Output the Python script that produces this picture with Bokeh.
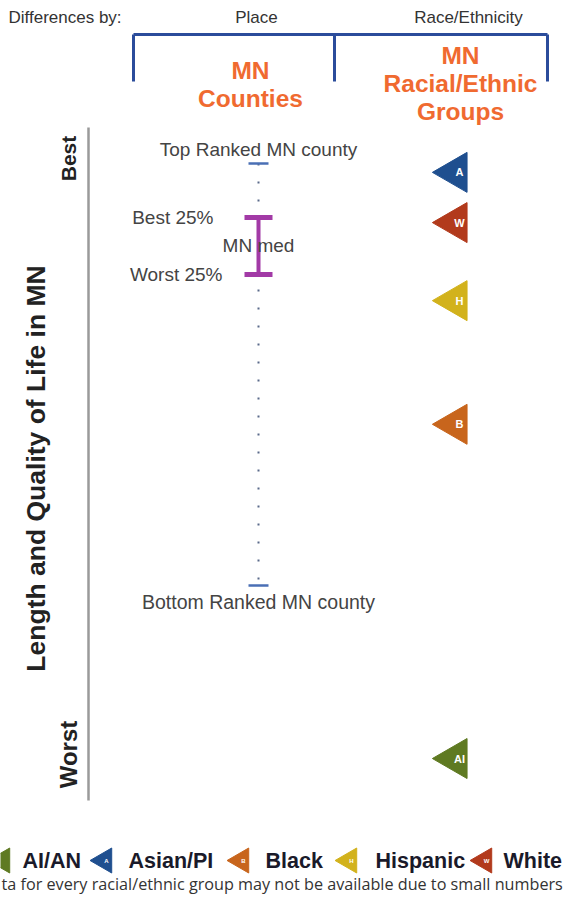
import numpy as np
from bokeh.plotting import figure
from bokeh.models import Range1d, Label, ColumnDataSource
from bokeh.core.properties import value
from bokeh.embed import file_html
from bokeh.resources import INLINE

# ---- data (relative ranking position: 0 = top ranked MN county, 100 = bottom ranked MN county)
groups = ["AI/AN", "Asian/PI", "Black", "Hispanic", "White"]
abbrev = ["AI", "A", "B", "H", "W"]
group_pos = [141.0, 2.1, 61.8, 32.5, 14.0]
group_colors = ["#5f7a22", "#1f4f8f", "#c8651c", "#d2b21c", "#b23a1c"]

county_top = 0.0
county_bottom = 100.0
county_best25 = 12.8
county_worst25 = 26.3
county_median = 19.5

# ---- layout helpers (reference pixel -> data units)
PX = 4.22
Y0 = 163.0
def Y(pix):
    return (pix - Y0) / PX

W, H = 568, 895
p = figure(width=W, height=H, output_backend="svg", toolbar_location=None,
           x_axis_type=None, y_axis_type=None, min_border=0,
           x_range=Range1d(0, W), y_range=Range1d(Y(H), Y(0)))
p.outline_line_color = None
p.grid.visible = False
p.background_fill_color = "white"
p.border_fill_color = "white"

SANS = "Liberation Sans"
DARK = "#333333"

def lab(x, y, text, size, color=DARK, bold=False, align="center", angle=0.0, font=SANS):
    p.add_layout(Label(x=x, y=y, text=text, text_font=font, text_font_size=f"{size}px",
                       text_color=color, text_font_style="bold" if bold else "normal",
                       text_align=align, text_baseline="middle", angle=angle))

# header
lab(8, Y(17), "Differences by:", 17, align="left")
lab(256, Y(17), "Place", 17)
lab(468, Y(17), "Race/Ethnicity", 17)
BR = "#2b4c9b"
p.line([133, 547], [Y(34), Y(34)], line_color=BR, line_width=3)
for bx in [133, 334, 547]:
    p.line([bx, bx], [Y(34), Y(81)], line_color=BR, line_width=3)
OR = "#f06a30"
lab(250, Y(70), "MN", 24.5, OR, True)
lab(250, Y(98), "Counties", 24.5, OR, True)
lab(460, Y(55), "MN", 24.5, OR, True)
lab(460, Y(83), "Racial/Ethnic", 24.5, OR, True)
lab(460, Y(111), "Groups", 24.5, OR, True)

# left scale
p.line([88, 88], [Y(127), Y(800)], line_color="#9a9a9a", line_width=2.5)
lab(68, Y(158), "Best", 21, "#222222", True, angle=np.pi / 2)
lab(68, Y(754), "Worst", 24, "#222222", True, angle=np.pi / 2)
lab(35, Y(468), "Length and Quality of Life in MN", 26.5, "#222222", True, angle=np.pi / 2)

# county distribution
CX = 258
p.line([CX, CX], [county_top, county_bottom], line_color="#5a6a8a", line_width=2, line_dash="2 16")
p.line([CX - 10, CX + 10], [county_top, county_top], line_color="#4a6fb5", line_width=2.5)
p.line([CX - 10, CX + 10], [county_bottom, county_bottom], line_color="#4a6fb5", line_width=2.5)
PU = "#a23aa6"
p.line([CX, CX], [county_best25, county_worst25], line_color=PU, line_width=4)
p.line([CX - 14, CX + 14], [county_best25, county_best25], line_color=PU, line_width=5)
p.line([CX - 14, CX + 14], [county_worst25, county_worst25], line_color=PU, line_width=5)

lab(CX, county_top - 14 / PX, "Top Ranked MN county", 19, "#444444")
lab(CX, county_bottom + 16 / PX, "Bottom Ranked MN county", 19.5, "#444444")
lab(213, county_best25, "Best 25%", 19, "#444444", align="right")
lab(222, county_worst25, "Worst 25%", 19, "#444444", align="right")
lab(CX, county_median, "MN med", 19, "#444444")

# racial/ethnic groups
src = ColumnDataSource(dict(x=[455] * len(groups), y=group_pos, c=group_colors, t=abbrev))
p.scatter("x", "y", source=src, marker="triangle", size=40, angle=np.pi / 2,
          fill_color="c", line_color="c")
p.text(x=[459] * len(groups), y=group_pos, text=abbrev, text_color="white",
       text_font=value(SANS), text_font_style="bold", text_font_size="11px",
       text_align="center", text_baseline="middle")

# legend
leg_tri_x = [2, 104, 241, 349, 484]
leg_txt_x = [22, 128, 265, 375, 503]
ly = Y(860)
p.scatter(leg_tri_x, [ly] * 5, marker="triangle", size=25, angle=np.pi / 2,
          fill_color=group_colors, line_color=group_colors)
p.text(x=[t + 2 for t in leg_tri_x[1:]], y=[ly] * 4, text=abbrev[1:], text_color="white",
       text_font=value(SANS), text_font_style="bold", text_font_size="6px",
       text_align="center", text_baseline="middle")
for tx, g in zip(leg_txt_x, groups):
    lab(tx, ly, g, 21.5, "#1a1a2a", True, align="left")

lab(1, Y(883), "ta for every racial/ethnic group may not be available due to small numbers",
    16.2, "#333333", align="left", font="Open Sans")

open("out.html", "w").write(file_html(p, INLINE))
